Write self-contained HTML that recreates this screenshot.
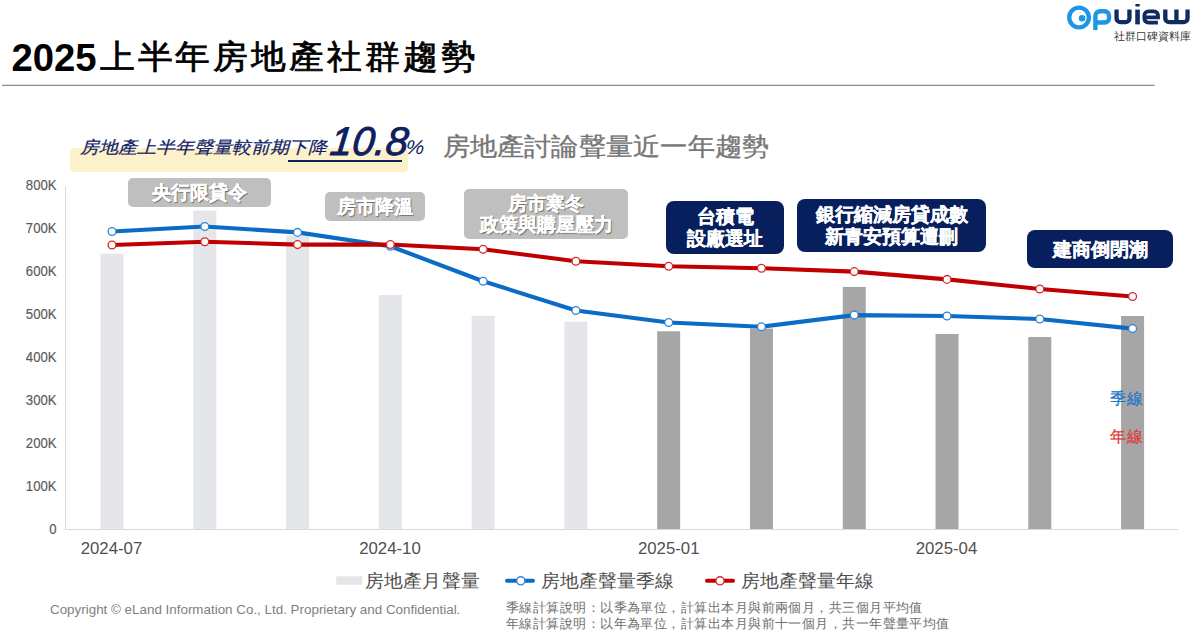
<!DOCTYPE html>
<html lang="zh-Hant">
<head>
<meta charset="utf-8">
<style>
html,body{margin:0;padding:0;background:#fff;}
body{width:1200px;height:639px;position:relative;overflow:hidden;font-family:"Liberation Sans",sans-serif;}
.a{position:absolute;white-space:nowrap;line-height:1;}
#t1{left:11.4px;top:39px;font-size:38.3px;font-weight:bold;color:#000;}
#t2{left:99.6px;top:39px;font-size:35px;letter-spacing:2.93px;color:#000;-webkit-text-stroke:0.8px #000;transform:scaleY(0.95);transform-origin:0 0;}
#rule{position:absolute;left:2px;top:84px;width:1153px;height:1.6px;background:#a6a6a6;}
#ybox{position:absolute;left:70.3px;top:148.3px;width:337.7px;height:23.7px;background:#fdf1ca;border-radius:4px;}
#sub{left:79.8px;top:138.6px;font-size:19px;color:#102264;font-style:italic;-webkit-text-stroke:0.25px #102264;transform:scaleY(0.885);transform-origin:0 0;}
#big{left:328.5px;top:120.5px;font-size:40px;color:#0e2060;font-style:italic;-webkit-text-stroke:0.9px #0e2060;transform:skewX(-6deg);transform-origin:0 35px;}
#pct{left:404.5px;top:137px;font-size:20px;color:#0e2060;font-style:italic;transform:skewX(-6deg) scaleX(1.05);transform-origin:0 17px;}
#uline{position:absolute;left:287.5px;top:159.7px;width:114.6px;height:2.3px;background:#0e2060;}
#h2{left:442.5px;top:134.5px;font-size:27px;letter-spacing:0.24px;color:#767676;-webkit-text-stroke:0.35px #767676;transform:scaleY(0.92);transform-origin:0 0;}
.ylab{position:absolute;left:0.5px;width:55.6px;text-align:right;font-size:14.3px;color:#595959;line-height:1;transform:scaleX(0.92);transform-origin:55.6px 0;-webkit-text-stroke:0.15px #595959;}
.xlab{position:absolute;width:100px;text-align:center;font-size:16.8px;color:#505050;line-height:1;}
.box{position:absolute;display:flex;align-items:center;justify-content:center;text-align:center;color:#fff;font-weight:bold;font-size:19px;white-space:nowrap;}
.gbox{background:#bfbfbf;border-radius:5px;line-height:21.35px;text-shadow:1.3px 1.3px 1px rgba(0,0,0,.5);-webkit-text-stroke:0.3px #fff;}
.nbox{background:#071f5c;border-radius:8px;line-height:22.5px;padding-top:2px;box-sizing:border-box;-webkit-text-stroke:0.3px #fff;}
.leg{position:absolute;font-size:19px;color:#4d4d4d;line-height:1;white-space:nowrap;transform:scaleY(0.955);transform-origin:0 17px;}
#copy{left:50px;top:602.5px;font-size:13.4px;color:#7f7f7f;}
#notes{position:absolute;left:506px;top:600px;font-size:13px;letter-spacing:0.45px;color:#6e6e6e;line-height:16px;white-space:nowrap;}
</style>
</head>
<body>
<div class="a" id="t1">2025</div><div class="a" id="t2">上半年房地產社群趨勢</div>
<svg style="position:absolute;left:0;top:0" width="1200" height="100"><line x1="2" y1="85.4" x2="1154.7" y2="85.4" stroke="#8e8e8e" stroke-width="1.35"/></svg>

<!-- logo -->
<svg style="position:absolute;left:0;top:0" width="1200" height="50">
  <g fill="none">
    <circle cx="1079.05" cy="17.5" r="9.85" stroke="#1e96e6" stroke-width="4.3"/>
    <circle cx="1082.1" cy="18.2" r="3.3" fill="#1e96e6"/>
    <path d="M1095.4 29.9 V16 a4.8 4.8 0 0 1 4.8 -4.8 H1104.6 a4.4 4.4 0 0 1 4.4 4.4 V18.3 a4.2 4.2 0 0 1 -4.2 4.2 H1095.4" stroke="#1e96e6" stroke-width="4.4"/>
    <path d="M1116.55 9.4 V18.15 a4 4 0 0 0 4 4 H1125.45 a4 4 0 0 0 4 -4 V9.4" stroke="#0f2b5f" stroke-width="4.3"/>
    <path d="M1137.55 9.6 V24.4" stroke="#0f2b5f" stroke-width="4.6"/>
    <rect x="1135.25" y="3.9" width="4.6" height="2.6" rx="1" fill="#0f2b5f"/>
    <path d="M1144.4 17.4 H1157.95 V15.4 a4 4 0 0 0 -4 -4 H1148.4 a4 4 0 0 0 -4 4 V18.6 a4 4 0 0 0 4 4 H1157.9" stroke="#0f2b5f" stroke-width="3.9"/>
    <path d="M1165.3 9.4 V18.15 a4 4 0 0 0 4 4 H1183.55 a4 4 0 0 0 4 -4 V9.4 M1176.45 9.4 V22.15" stroke="#0f2b5f" stroke-width="4.3"/>
  </g>
</svg>
<div class="a" style="left:1113.5px;top:30.5px;font-size:11px;color:#3a3a3a;">社群口碑資料庫</div>

<div id="ybox"></div>
<div class="a" id="sub">房地產上半年聲量較前期下降</div>
<div class="a" id="big">10.8</div>
<div class="a" id="pct">%</div>
<div id="uline"></div>
<div class="a" id="h2">房地產討論聲量近一年趨勢</div>

<!-- y labels -->
<div class="ylab" style="top:178.0px">800K</div>
<div class="ylab" style="top:221.0px">700K</div>
<div class="ylab" style="top:264.0px">600K</div>
<div class="ylab" style="top:307.0px">500K</div>
<div class="ylab" style="top:350.0px">400K</div>
<div class="ylab" style="top:393.0px">300K</div>
<div class="ylab" style="top:436.0px">200K</div>
<div class="ylab" style="top:479.0px">100K</div>
<div class="ylab" style="top:522.0px">0</div>

<svg id="chart" style="position:absolute;left:0;top:0" width="1200" height="639">
  <line x1="65.5" y1="186" x2="65.5" y2="529" stroke="#d9d9d9" stroke-width="1"/>
  <line x1="65" y1="529.5" x2="1178" y2="529.5" stroke="#d9d9d9" stroke-width="1"/>
  <g id="bars"><rect x="100.50" y="253.75" width="23" height="275.25" fill="#e4e6e9"/><rect x="193.28" y="210.50" width="23" height="318.50" fill="#e4e6e9"/><rect x="286.06" y="235.50" width="23" height="293.50" fill="#e4e6e9"/><rect x="378.84" y="295.00" width="23" height="234.00" fill="#e4e6e9"/><rect x="471.62" y="315.75" width="23" height="213.25" fill="#e4e6e9"/><rect x="564.40" y="321.75" width="23" height="207.25" fill="#e4e6e9"/><rect x="657.18" y="331.25" width="23" height="197.75" fill="#a6a6a6"/><rect x="749.96" y="328.60" width="23" height="200.40" fill="#a6a6a6"/><rect x="842.74" y="286.90" width="23" height="242.10" fill="#a6a6a6"/><rect x="935.52" y="334.00" width="23" height="195.00" fill="#a6a6a6"/><rect x="1028.30" y="337.00" width="23" height="192.00" fill="#a6a6a6"/><rect x="1121.08" y="316.00" width="23" height="213.00" fill="#a6a6a6"/></g>
  <g id="lines"><path d="M112.00 231.50 L204.78 226.50 L297.56 232.40 L390.34 246.25 L483.12 281.25 L575.90 310.50 L668.68 322.50 L761.46 326.75 L854.24 315.10 L947.02 316.00 L1039.80 319.00 L1132.58 328.60" fill="none" stroke="#0b6cc5" stroke-width="4.1" stroke-linejoin="round"/><circle cx="112.00" cy="231.50" r="3.9" fill="#fff" stroke="#2e86d0" stroke-width="1.3"/><circle cx="204.78" cy="226.50" r="3.9" fill="#fff" stroke="#2e86d0" stroke-width="1.3"/><circle cx="297.56" cy="232.40" r="3.9" fill="#fff" stroke="#2e86d0" stroke-width="1.3"/><circle cx="390.34" cy="246.25" r="3.9" fill="#fff" stroke="#2e86d0" stroke-width="1.3"/><circle cx="483.12" cy="281.25" r="3.9" fill="#fff" stroke="#2e86d0" stroke-width="1.3"/><circle cx="575.90" cy="310.50" r="3.9" fill="#fff" stroke="#2e86d0" stroke-width="1.3"/><circle cx="668.68" cy="322.50" r="3.9" fill="#fff" stroke="#2e86d0" stroke-width="1.3"/><circle cx="761.46" cy="326.75" r="3.9" fill="#fff" stroke="#2e86d0" stroke-width="1.3"/><circle cx="854.24" cy="315.10" r="3.9" fill="#fff" stroke="#2e86d0" stroke-width="1.3"/><circle cx="947.02" cy="316.00" r="3.9" fill="#fff" stroke="#2e86d0" stroke-width="1.3"/><circle cx="1039.80" cy="319.00" r="3.9" fill="#fff" stroke="#2e86d0" stroke-width="1.3"/><circle cx="1132.58" cy="328.60" r="3.9" fill="#fff" stroke="#2e86d0" stroke-width="1.3"/><path d="M112.00 245.00 L204.78 241.75 L297.56 244.60 L390.34 244.50 L483.12 249.25 L575.90 261.25 L668.68 266.25 L761.46 268.25 L854.24 271.60 L947.02 279.40 L1039.80 289.00 L1132.58 296.50" fill="none" stroke="#c00000" stroke-width="4.1" stroke-linejoin="round"/><circle cx="112.00" cy="245.00" r="3.9" fill="#fff" stroke="#d02a2a" stroke-width="1.3"/><circle cx="204.78" cy="241.75" r="3.9" fill="#fff" stroke="#d02a2a" stroke-width="1.3"/><circle cx="297.56" cy="244.60" r="3.9" fill="#fff" stroke="#d02a2a" stroke-width="1.3"/><circle cx="390.34" cy="244.50" r="3.9" fill="#fff" stroke="#d02a2a" stroke-width="1.3"/><circle cx="483.12" cy="249.25" r="3.9" fill="#fff" stroke="#d02a2a" stroke-width="1.3"/><circle cx="575.90" cy="261.25" r="3.9" fill="#fff" stroke="#d02a2a" stroke-width="1.3"/><circle cx="668.68" cy="266.25" r="3.9" fill="#fff" stroke="#d02a2a" stroke-width="1.3"/><circle cx="761.46" cy="268.25" r="3.9" fill="#fff" stroke="#d02a2a" stroke-width="1.3"/><circle cx="854.24" cy="271.60" r="3.9" fill="#fff" stroke="#d02a2a" stroke-width="1.3"/><circle cx="947.02" cy="279.40" r="3.9" fill="#fff" stroke="#d02a2a" stroke-width="1.3"/><circle cx="1039.80" cy="289.00" r="3.9" fill="#fff" stroke="#d02a2a" stroke-width="1.3"/><circle cx="1132.58" cy="296.50" r="3.9" fill="#fff" stroke="#d02a2a" stroke-width="1.3"/></g>
</svg>

<div class="xlab" style="left:61.5px;top:541px">2024-07</div>
<div class="xlab" style="left:340px;top:541px">2024-10</div>
<div class="xlab" style="left:618.7px;top:541px">2025-01</div>
<div class="xlab" style="left:896.5px;top:541px">2025-04</div>

<div class="box gbox" style="left:127.7px;top:178.3px;width:143.3px;height:28.7px">央行限貸令</div>
<div class="box gbox" style="left:324.9px;top:192.25px;width:100px;height:29.15px">房市降溫</div>
<div class="box gbox" style="left:463.7px;top:188.7px;width:164.7px;height:50.7px">房市寒冬<br>政策與購屋壓力</div>
<div class="box nbox" style="left:665.7px;top:200.7px;width:118.8px;height:53.5px">台積電<br>設廠選址</div>
<div class="box nbox" style="left:797px;top:198.75px;width:189px;height:52.85px">銀行縮減房貸成數<br>新青安預算遭刪</div>
<div class="box nbox" style="left:1027.25px;top:230.25px;width:145.75px;height:37.25px">建商倒閉潮</div>

<div class="a" style="left:1109.5px;top:390.7px;font-size:16px;letter-spacing:1px;color:#1f77c9;-webkit-text-stroke:0.25px #1f77c9">季線</div>
<div class="a" style="left:1109.5px;top:428.5px;font-size:16px;letter-spacing:1px;color:#e03a3a;-webkit-text-stroke:0.25px #e03a3a">年線</div>

<!-- legend -->
<svg style="position:absolute;left:0;top:560px" width="1200" height="40">
  <rect x="336.25" y="16.25" width="26" height="8.5" fill="#e4e6e9"/>
  <line x1="507" y1="20.8" x2="533" y2="20.8" stroke="#0b6cc5" stroke-width="4" stroke-linecap="round"/>
  <circle cx="520.75" cy="20.8" r="4.1" fill="#fff" stroke="#2e86d0" stroke-width="1.4"/>
  <line x1="707" y1="20.8" x2="733" y2="20.8" stroke="#c00000" stroke-width="4" stroke-linecap="round"/>
  <circle cx="720" cy="20.8" r="4.1" fill="#fff" stroke="#d02a2a" stroke-width="1.4"/>
</svg>
<div class="leg" style="left:364.5px;top:571px;letter-spacing:0.3px">房地產月聲量</div>
<div class="leg" style="left:541px;top:571px">房地產聲量季線</div>
<div class="leg" style="left:741px;top:571px">房地產聲量年線</div>

<div class="a" id="copy">Copyright © eLand Information Co., Ltd. Proprietary and Confidential.</div>
<div id="notes">季線計算說明：以季為單位，計算出本月與前兩個月，共三個月平均值<br>年線計算說明：以年為單位，計算出本月與前十一個月，共一年聲量平均值</div>


</body>
</html>
